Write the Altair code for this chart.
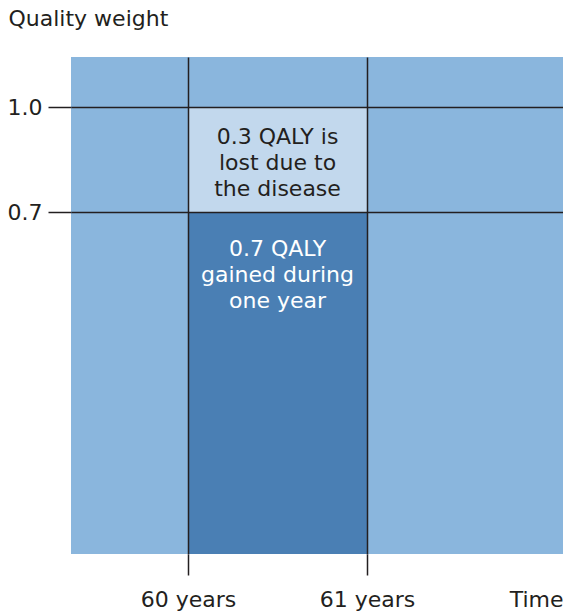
import altair as alt
import pandas as pd

# ---- data ----
years = [60, 61]
weights = [0.7, 1.0]
gained = 0.7
lost = 0.3
Y_MIN = -0.277
Y_MAX = 1.143
X_MIN = 59.346
X_MAX = 62.095
text_lost = ["0.3 QALY is", "lost due to", "the disease"]
text_gained = ["0.7 QALY", "gained during", "one year"]

FONT = "DejaVu Sans"
FS = 22
INK = "#231f20"
BG = "#8ab6dd"
DARK = "#4a7fb4"
LIGHT = "#c2d8ed"

W = 492
H = 497

bars = pd.DataFrame({
    "x": [years[0], years[0]],
    "x2": [years[1], years[1]],
    "y": [Y_MIN, gained],
    "y2": [gained, gained + lost],
    "part": ["gained", "lost"],
})

xs = alt.Scale(domain=[X_MIN, X_MAX], nice=False, zero=False)
ys = alt.Scale(domain=[Y_MIN, Y_MAX], nice=False, zero=False)

x_axis = alt.Axis(
    values=years, labelExpr="datum.value + ' years'", title="Time",
    grid=True, gridColor=INK, gridWidth=1.5, gridOpacity=1,
    tickColor=INK, tickWidth=1.5, tickSize=21, domain=False,
    labelFont=FONT, labelFontSize=FS, labelColor=INK, labelBaseline="alphabetic",
    labelPadding=31, labelFlush=False, labelOverlap=False,
    titleFont=FONT, titleFontSize=FS, titleColor=INK, titleFontWeight="normal",
    titleX=W, titleY=52, titleAlign="right", titleBaseline="alphabetic", titleAnchor="end",
    zindex=1,
)
y_axis = alt.Axis(
    values=weights, format=".1f", title="Quality weight",
    grid=True, gridColor=INK, gridWidth=1.5, gridOpacity=1,
    tickColor=INK, tickWidth=1.5, tickSize=23, domain=False,
    labelFont=FONT, labelFontSize=FS, labelColor=INK, labelPadding=6,
    labelFlush=False, labelOverlap=False,
    titleFont=FONT, titleFontSize=FS, titleColor=INK, titleFontWeight="normal",
    titleAngle=0, titleX=-63, titleY=-32, titleAlign="left", titleBaseline="alphabetic",
    zindex=1,
)

rects = alt.Chart(bars).mark_rect().encode(
    x=alt.X("x:Q", scale=xs, axis=x_axis),
    x2="x2:Q",
    y=alt.Y("y:Q", scale=ys, axis=y_axis),
    y2="y2:Q",
    color=alt.Color("part:N", scale=alt.Scale(domain=["gained", "lost"], range=[DARK, LIGHT]), legend=None),
)

mid = (years[0] + years[1]) / 2

t_lost = alt.Chart().mark_text(
    font=FONT, fontSize=FS, color=INK, align="center", baseline="middle", lineHeight=26, dy=30
).encode(
    x=alt.X(datum=mid, scale=xs), y=alt.Y(datum=gained + lost, scale=ys),
    text=alt.value(text_lost),
)
t_gained = alt.Chart().mark_text(
    font=FONT, fontSize=FS, color="white", align="center", baseline="middle", lineHeight=26, dy=37
).encode(
    x=alt.X(datum=mid, scale=xs), y=alt.Y(datum=gained, scale=ys),
    text=alt.value(text_gained),
)

chart = alt.layer(rects, t_lost, t_gained).properties(
    width=W, height=H,
    autosize=alt.AutoSizeParams(type="none"),
    padding={"left": 63, "top": 49, "right": 0, "bottom": 57},
).configure_view(stroke=None, fill=BG)

chart.save("out.html", embed_options={"renderer": "svg", "actions": False})
